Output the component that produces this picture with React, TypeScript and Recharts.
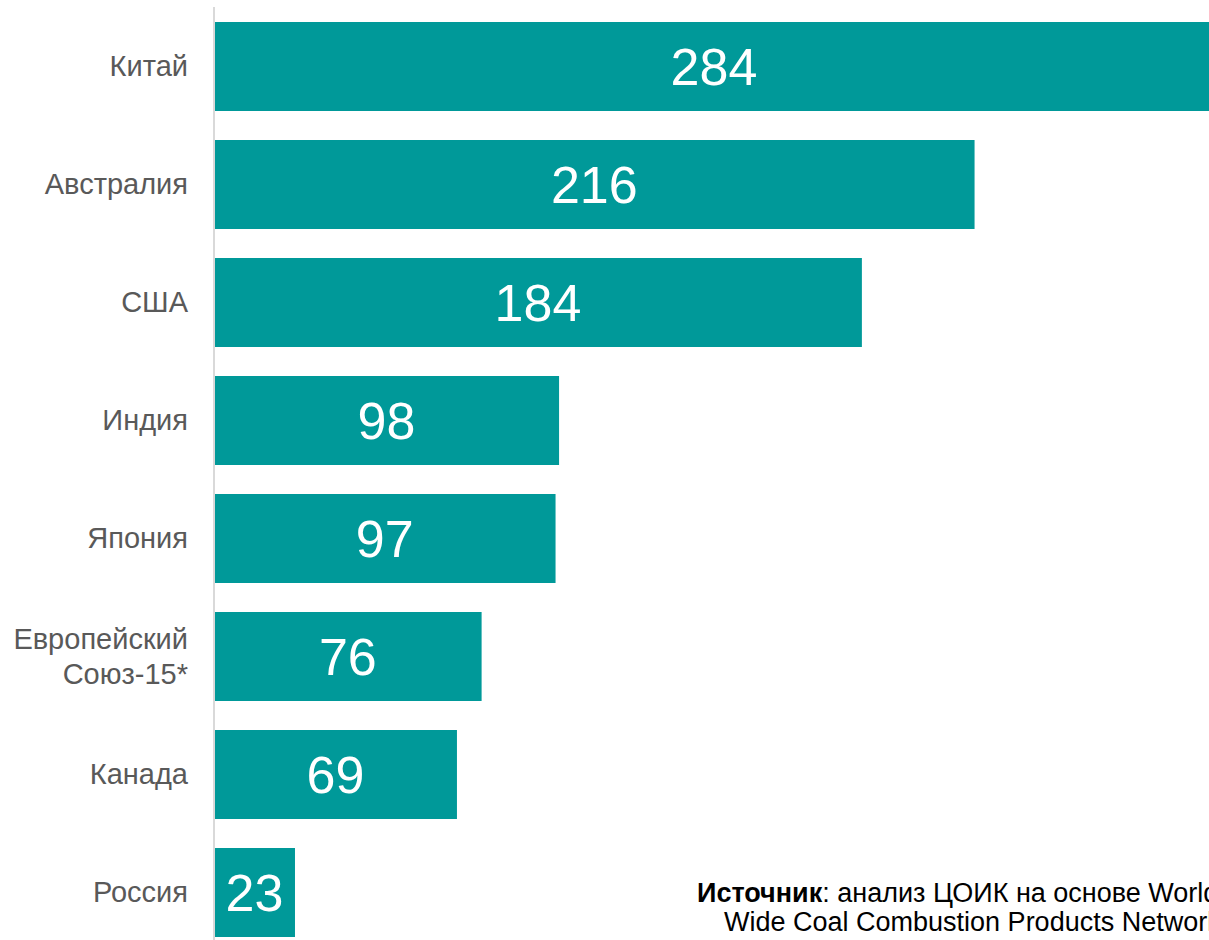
import React from "react";
import { BarChart, Bar, XAxis, YAxis, LabelList } from "recharts";

const categories = ["Китай", "Австралия", "США", "Индия", "Япония", "Европейский\nСоюз-15*", "Канада", "Россия"];
const values = [284, 216, 184, 98, 97, 76, 69, 23];
const sourceBold = "Источник";
const sourceLine1 = ": анализ ЦОИК на основе World";
const sourceLine2 = "Wide Coal Combustion Products Network";

const data = categories.map((c, i) => ({ name: c, value: values[i] }));

const FONT = "Arial, 'Liberation Sans', sans-serif";

const Tick = (props: any) => {
  const { x, y, payload } = props;
  const lines = String(payload.value).split("\n");
  const lh = 35;
  const start = y + 10 - ((lines.length - 1) * lh) / 2;
  return (
    <text x={x} y={start} textAnchor="end" fill="#595959" fontSize={29} fontFamily={FONT}>
      {lines.map((l, i) => (
        <tspan key={i} x={x} y={start + i * lh}>
          {l}
        </tspan>
      ))}
    </text>
  );
};

export default function App() {
  return (
    <div style={{ position: "absolute", left: 0, top: 0, width: 1209, height: 940, overflow: "hidden", background: "#fff" }}>
      <BarChart
        width={1214}
        height={951}
        data={data}
        layout="vertical"
        margin={{ top: 7, right: 0, bottom: 0, left: 0 }}
        barSize={89}
      >
        <XAxis type="number" hide domain={[0, 284]} />
        <YAxis
          type="category"
          dataKey="name"
          width={214}
          axisLine={{ stroke: "#d9d9d9", strokeWidth: 2 }}
          tickLine={false}
          tickSize={0}
          tickMargin={26}
          tick={<Tick />}
          interval={0}
        />
        <Bar dataKey="value" fill="#009999" isAnimationActive={false}>
          <LabelList dataKey="value" position="center" fill="#ffffff" fontSize={52} fontFamily={FONT} />
        </Bar>
      </BarChart>
      <svg width={1209} height={940} style={{ position: "absolute", left: 0, top: 0, pointerEvents: "none" }}>
        <text x={697} y={902} fontSize={27} fontFamily={FONT} fill="#000">
          <tspan fontWeight="bold">{sourceBold}</tspan>
          <tspan>{sourceLine1}</tspan>
        </text>
        <text x={724} y={931} fontSize={27} fontFamily={FONT} fill="#000">
          {sourceLine2}
        </text>
      </svg>
    </div>
  );
}
